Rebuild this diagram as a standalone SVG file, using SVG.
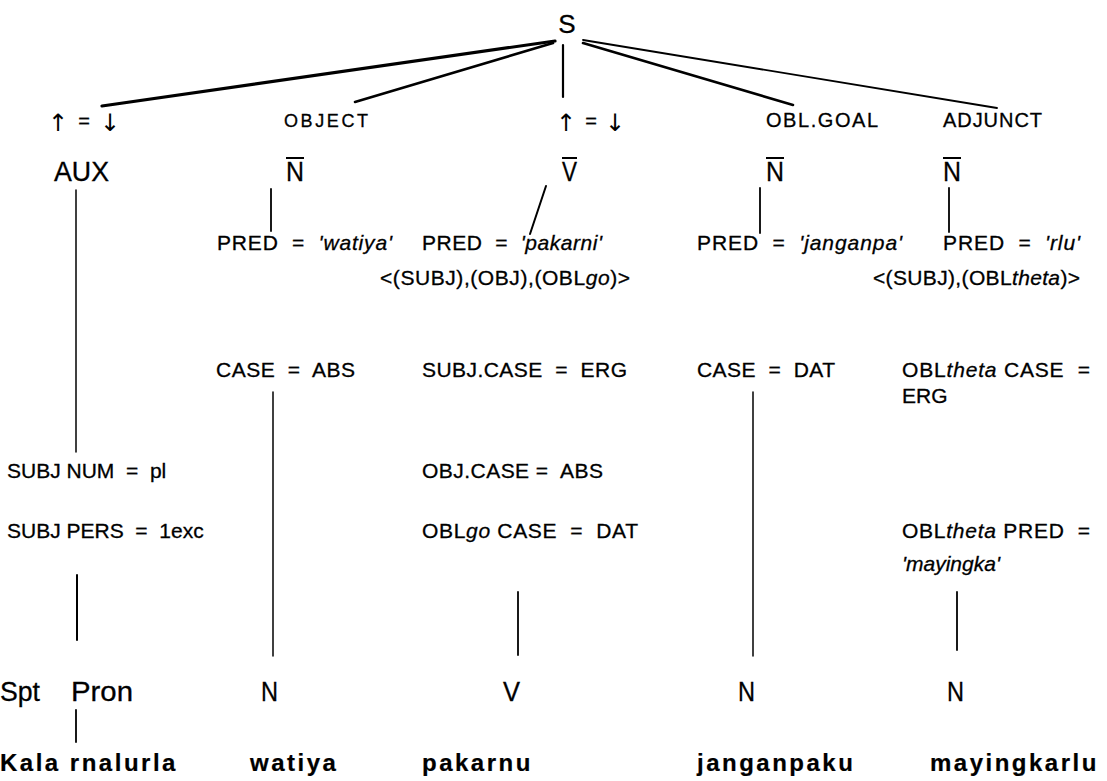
<svg xmlns="http://www.w3.org/2000/svg" width="1107" height="781" viewBox="0 0 1107 781">
<style>
text{font-family:"Liberation Sans",Arial,sans-serif;fill:#000;stroke:#000;stroke-width:0.3;white-space:pre}
.s{font-size:26px}
.ar{font-family:"DejaVu Sans","Liberation Sans",sans-serif;font-size:24px;stroke-width:0;text-anchor:middle}
.eq{font-size:20px;text-anchor:middle}
.f{font-size:20px}
.fs{font-size:18px}
.cat{font-size:28px}
.a{font-size:21px}
.lx{font-size:27px}
.w{font-size:24px;font-weight:bold;letter-spacing:2.5px;stroke-width:0.2}
.i{font-style:italic}
.bar{stroke:#000;stroke-width:2}
#connectors line{stroke:#000;stroke-linecap:round;fill:none}
</style>
<rect width="1107" height="781" fill="#fff"/>
<g id="connectors">
<line x1="555" y1="41" x2="102" y2="106" stroke-width="3.2"/>
<line x1="553" y1="43" x2="355" y2="102" stroke-width="2.6"/>
<line x1="563" y1="45" x2="563" y2="97" stroke-width="2.2"/>
<line x1="583" y1="43" x2="793" y2="105" stroke-width="2.6"/>
<line x1="583" y1="40" x2="997" y2="108" stroke-width="1.8"/>
<line x1="76" y1="190" x2="76" y2="452" stroke-width="1.5"/>
<line x1="271" y1="189" x2="271" y2="231" stroke-width="1.8"/>
<line x1="546" y1="186" x2="530" y2="234" stroke-width="2"/>
<line x1="760" y1="188" x2="760" y2="233" stroke-width="1.8"/>
<line x1="949" y1="188" x2="949" y2="232" stroke-width="1.8"/>
<line x1="273" y1="392" x2="273" y2="656" stroke-width="1.5"/>
<line x1="77" y1="575" x2="77" y2="640" stroke-width="2"/>
<line x1="518" y1="592" x2="518" y2="655" stroke-width="1.8"/>
<line x1="753" y1="392" x2="753" y2="656" stroke-width="1.5"/>
<line x1="957" y1="592" x2="957" y2="650" stroke-width="1.8"/>
<line x1="76" y1="710" x2="76" y2="742" stroke-width="1.8"/>
</g>
<g id="n-S"><text class="s" x="567" y="33" text-anchor="middle">S</text></g>
<g id="n-aux-fn"><text class="ar" x="58" y="131">↑</text><text class="eq" x="84" y="128">=</text><text class="ar" x="110" y="131">↓</text></g>
<g id="n-obj-fn"><text class="fs" x="284" y="127" textLength="84">OBJECT</text></g>
<g id="n-v-fn"><text class="ar" x="566" y="131">↑</text><text class="eq" x="591" y="128">=</text><text class="ar" x="615" y="131">↓</text></g>
<g id="n-goal-fn"><text class="f" x="766" y="127" textLength="112">OBL.GOAL</text></g>
<g id="n-adj-fn"><text class="f" x="943" y="127" textLength="99">ADJUNCT</text></g>
<g id="n-AUX"><text class="cat" x="54" y="181" textLength="55" lengthAdjust="spacingAndGlyphs">AUX</text></g>
<g id="n-Nbar-obj"><line class="bar" x1="286" y1="158" x2="304" y2="158"/><text class="cat" x="286" y="181" textLength="18" lengthAdjust="spacingAndGlyphs">N</text></g>
<g id="n-Vbar"><line class="bar" x1="562" y1="158" x2="577" y2="158"/><text class="cat" x="562" y="181" textLength="15" lengthAdjust="spacingAndGlyphs">V</text></g>
<g id="n-Nbar-goal"><line class="bar" x1="766" y1="158" x2="784" y2="158"/><text class="cat" x="766" y="181" textLength="18" lengthAdjust="spacingAndGlyphs">N</text></g>
<g id="n-Nbar-adj"><line class="bar" x1="943" y1="158" x2="961" y2="158"/><text class="cat" x="943" y="181" textLength="18" lengthAdjust="spacingAndGlyphs">N</text></g>
<g id="n-pred-watiya"><text class="a" x="217" y="250" textLength="175">PRED  =  <tspan class="i">'watiya'</tspan></text></g>
<g id="n-pred-pakarni"><text class="a" x="422" y="250" textLength="180">PRED  =  <tspan class="i">'pakarni'</tspan></text><text class="a" x="380" y="285" textLength="250">&lt;(SUBJ),(OBJ),(OBL<tspan class="i">go</tspan>)&gt;</text></g>
<g id="n-pred-janganpa"><text class="a" x="697" y="250" textLength="205">PRED  =  <tspan class="i">'janganpa'</tspan></text></g>
<g id="n-pred-rlu"><text class="a" x="943" y="250" textLength="137">PRED  =  <tspan class="i">'rlu'</tspan></text><text class="a" x="873" y="285" textLength="207">&lt;(SUBJ),(OBL<tspan class="i">theta</tspan>)&gt;</text></g>
<g id="n-case-abs"><text class="a" x="216" y="377" textLength="139">CASE  =  ABS</text></g>
<g id="n-subj-case"><text class="a" x="422" y="377" textLength="205">SUBJ.CASE  =  ERG</text></g>
<g id="n-case-dat"><text class="a" x="697" y="377" textLength="138">CASE  =  DAT</text></g>
<g id="n-obltheta-case"><text class="a" x="902" y="377" textLength="188">OBL<tspan class="i">theta</tspan> CASE  =</text><text class="a" x="902" y="403">ERG</text></g>
<g id="n-subj-num"><text class="a" x="7" y="478">SUBJ NUM  =  pl</text></g>
<g id="n-obj-case"><text class="a" x="422" y="478" textLength="181">OBJ.CASE =  ABS</text></g>
<g id="n-subj-pers"><text class="a" x="7" y="538">SUBJ PERS  =  1exc</text></g>
<g id="n-oblgo-case"><text class="a" x="422" y="538" textLength="216">OBL<tspan class="i">go</tspan> CASE  =  DAT</text></g>
<g id="n-obltheta-pred"><text class="a" x="902" y="538" textLength="188">OBL<tspan class="i">theta</tspan> PRED  =</text><text class="a i" x="902" y="571">'mayingka'</text></g>
<g id="n-spt-pron"><text class="lx" x="0" y="701" textLength="40" lengthAdjust="spacingAndGlyphs">Spt</text><text class="lx" x="71" y="701" textLength="62" lengthAdjust="spacingAndGlyphs">Pron</text></g>
<g id="n-N-obj"><text class="lx" x="261" y="701" textLength="17" lengthAdjust="spacingAndGlyphs">N</text></g>
<g id="n-V"><text class="lx" x="503" y="701" textLength="17" lengthAdjust="spacingAndGlyphs">V</text></g>
<g id="n-N-goal"><text class="lx" x="738" y="701" textLength="17" lengthAdjust="spacingAndGlyphs">N</text></g>
<g id="n-N-adj"><text class="lx" x="947" y="701" textLength="17" lengthAdjust="spacingAndGlyphs">N</text></g>
<g id="n-kala"><text class="w" x="0" y="771">Kala rnalurla</text></g>
<g id="n-watiya"><text class="w" x="250" y="771">watiya</text></g>
<g id="n-pakarnu"><text class="w" x="422" y="771">pakarnu</text></g>
<g id="n-janganpaku"><text class="w" x="697" y="771">janganpaku</text></g>
<g id="n-mayingkarlu"><text class="w" x="930" y="771">mayingkarlu</text></g>
</svg>
